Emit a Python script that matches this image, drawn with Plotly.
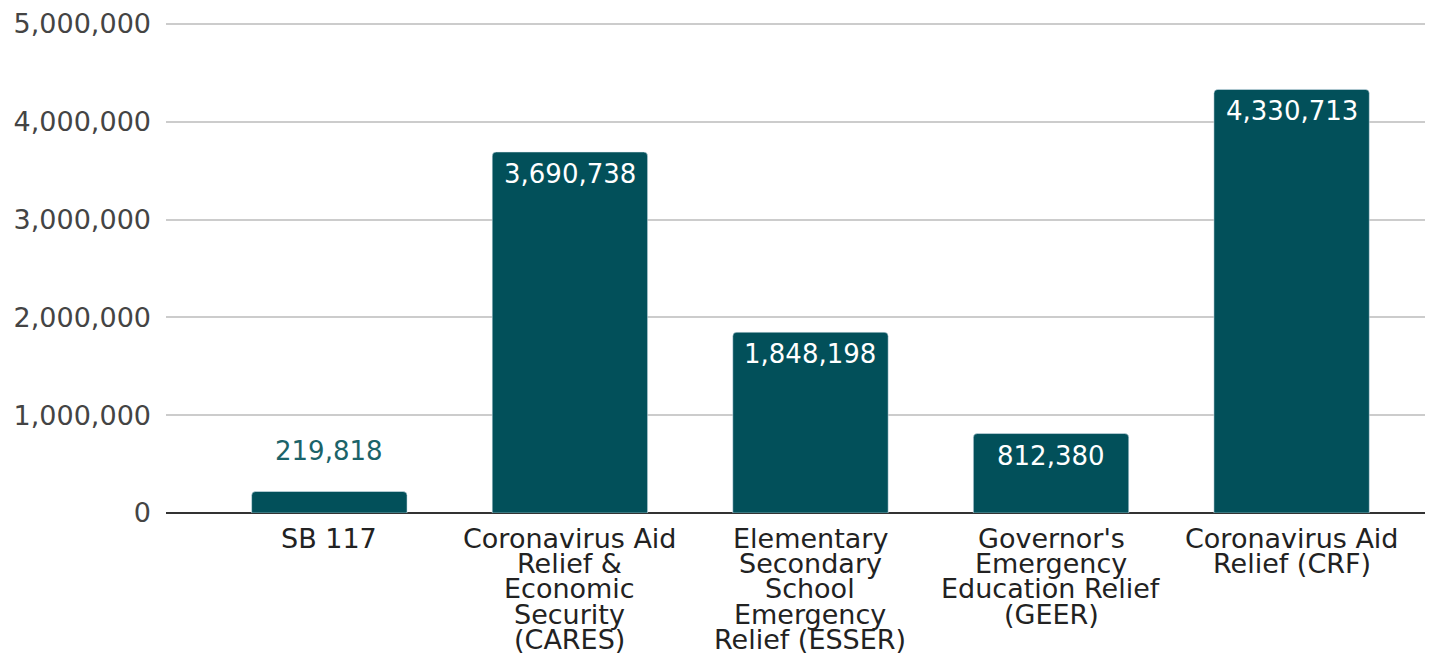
import plotly.graph_objects as go

categories = ["SB 117",
              "Coronavirus Aid<br>Relief &<br>Economic<br>Security<br>(CARES)",
              "Elementary<br>Secondary<br>School<br>Emergency<br>Relief (ESSER)",
              "Governor's<br>Emergency<br>Education Relief<br>(GEER)",
              "Coronavirus Aid<br>Relief (CRF)"]
values = [219818, 3690738, 1848198, 812380, 4330713]
label_inside = [False, True, True, True, True]
y_ticks = [0, 1000000, 2000000, 3000000, 4000000, 5000000]

BAR = "#02505A"
FONT = "DejaVu Sans"

fig = go.Figure()
fig.add_trace(go.Bar(
    x=list(range(len(categories))), y=values,
    marker=dict(color=BAR, cornerradius=4),
    width=0.646, hoverinfo="skip",
))

ann = []
for i, (lab, v, ins) in enumerate(zip(categories, values, label_inside)):
    txt = f"{v:,}"
    if ins:
        ann.append(dict(x=i, y=v, xref="x", yref="y", text=txt, showarrow=False,
                        yanchor="top", yshift=-5,
                        font=dict(family=FONT, size=26, color="#ffffff")))
    else:
        ann.append(dict(x=i, y=v, xref="x", yref="y", text=txt, showarrow=False,
                        yanchor="bottom", yshift=24,
                        font=dict(family=FONT, size=26, color="#1b6369")))
    for j, line in enumerate(lab.split("<br>")):
        ann.append(dict(x=i, y=0, xref="x", yref="y", text=line, showarrow=False,
                        yanchor="middle", yshift=-(25 + 25.4 * j),
                        font=dict(family=FONT, size=27, color="#222222")))

fig.update_layout(
    width=1433, height=653,
    margin=dict(l=158, r=0, t=11, b=148),
    plot_bgcolor="white", paper_bgcolor="white",
    showlegend=False,
    annotations=ann,
    xaxis=dict(range=[-0.679, 4.621], showticklabels=False, showgrid=False,
               zeroline=False, showline=False, fixedrange=True),
    yaxis=dict(range=[0, 5030000], tickvals=y_ticks,
               ticktext=[f"{t:,}" for t in y_ticks],
               showgrid=True, gridcolor="#cccccc", gridwidth=1.5,
               zeroline=True, zerolinecolor="#333333", zerolinewidth=2,
               showline=False, ticks="", ticklabelstandoff=14,
               ticklabeloverflow="allow",
               tickfont=dict(family=FONT, size=27, color="#444444"),
               fixedrange=True),
)
fig.write_html("out.html")
